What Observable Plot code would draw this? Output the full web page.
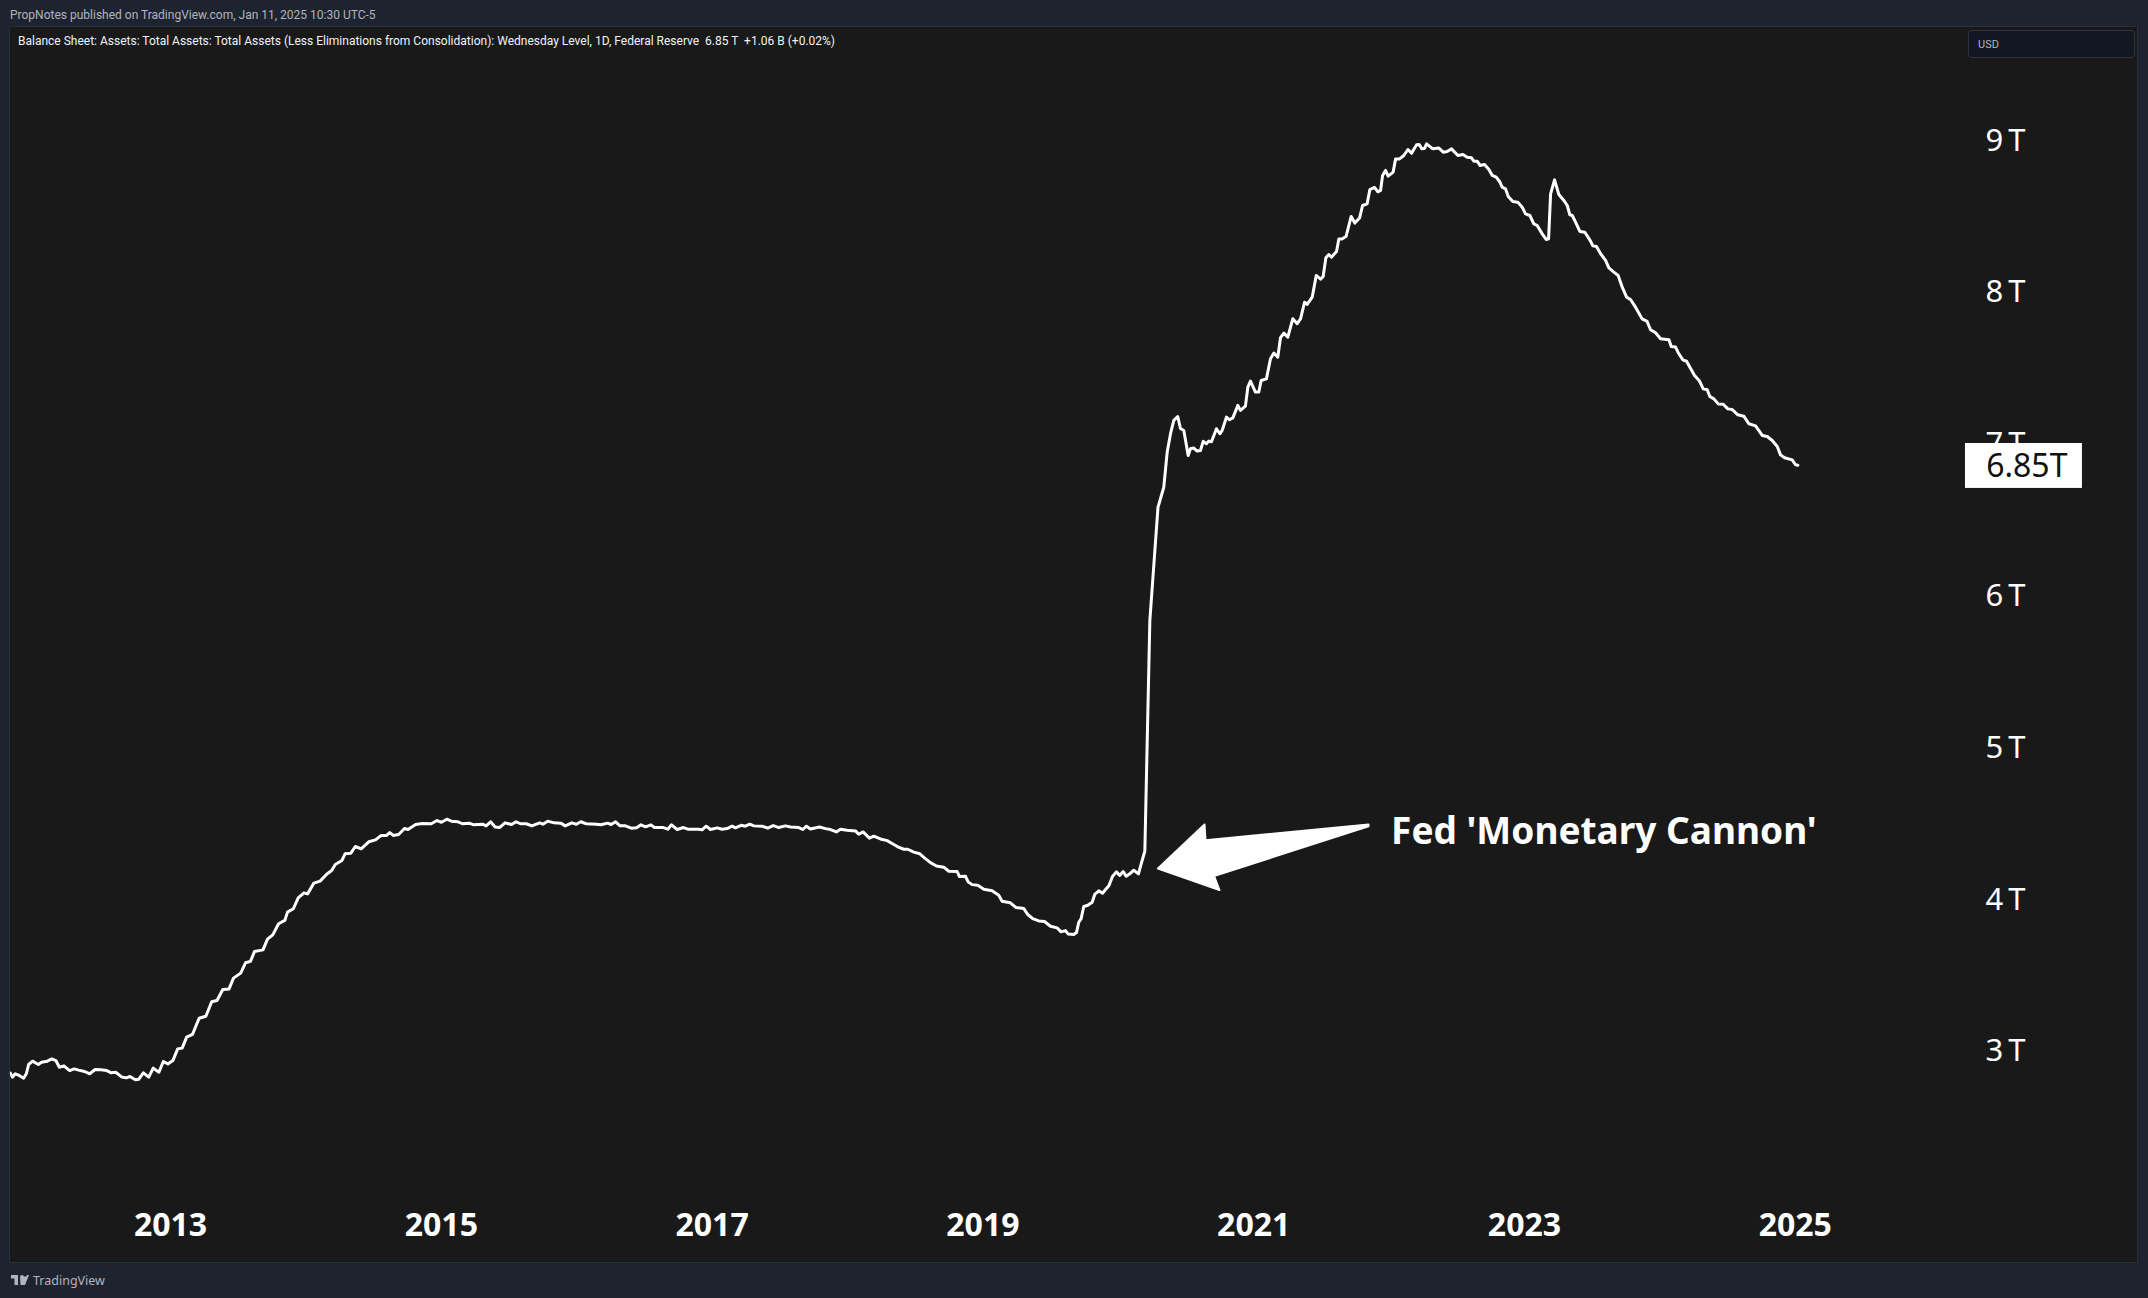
<!DOCTYPE html>
<html><head><meta charset="utf-8">
<script src="https://cdn.jsdelivr.net/npm/d3@7"></script>
<script src="https://cdn.jsdelivr.net/npm/@observablehq/plot@0.6"></script>
<style>
html,body{margin:0;padding:0;width:2148px;height:1298px;overflow:hidden;background:#1e2330;}
#panel{position:absolute;left:10px;top:27px;width:2127px;height:1235px;box-sizing:content-box;outline:1px solid #2a2e39;background:#191919;}
#panel svg{display:block;}
#panel g[aria-label="y-axis tick label"]{letter-spacing:5px;}
.t{position:absolute;white-space:pre;font-family:Roboto,sans-serif;}
#pub{left:10px;top:8px;font-size:12px;color:#b2b5be;}
#leg{left:18px;top:34px;font-size:12px;color:#f0f3fa;}
#usd{position:absolute;left:1968px;top:30px;width:165px;height:26px;background:#131722;border:1px solid #2f3341;border-radius:4px;font:11px Roboto,sans-serif;color:#b2b5be;line-height:28px;text-indent:9px;}
#tv{left:33px;top:1272px;font-size:12.5px;color:#b2b5be;font-family:"Noto Sans",sans-serif;}
#logo{position:absolute;left:10px;top:1275px;}
</style></head><body>
<div class="t" id="pub">PropNotes published on TradingView.com, Jan 11, 2025 10:30 UTC-5</div>
<div id="panel"></div>
<div class="t" id="leg">Balance Sheet: Assets: Total Assets: Total Assets (Less Eliminations from Consolidation): Wednesday Level, 1D, Federal Reserve  6.85 T  +1.06 B (+0.02%)</div>
<div id="usd">USD</div>
<svg id="logo" width="20" height="10" viewBox="0 0 36 20"><path fill="#b2b5be" d="M0 0h14v20H7V7H0zM24 20 32 0h4l-8 20zM22 0a4 4 0 1 1-.01 0zM18 3h14l-6 17h-7z"/></svg>
<div class="t" id="tv">TradingView</div>
<script>
const years = [
2011.817,2011.833,2011.853,2011.882,2011.915,2011.935,2011.952,2011.981,2012.024,2012.047,2012.090,2012.123,2012.153,2012.179,2012.212,2012.255,2012.288,2012.321,2012.364,2012.403,2012.443,2012.486,2012.529,2012.562,2012.595,2012.641,2012.674,2012.700,2012.740,2012.766,2012.799,2012.839,2012.872,2012.914,2012.947,2012.980,
2013.017,2013.053,2013.086,2013.119,2013.162,2013.211,2013.261,2013.304,2013.343,2013.386,2013.432,2013.465,2013.518,2013.554,2013.590,2013.620,2013.683,2013.716,2013.755,2013.798,2013.844,2013.864,2013.907,2013.943,2013.986,
2014.012,2014.059,2014.105,2014.151,2014.190,2014.217,2014.266,2014.289,2014.332,2014.365,2014.408,2014.464,2014.514,2014.556,2014.596,2014.619,2014.645,2014.685,2014.728,2014.754,2014.810,2014.860,2014.926,2014.968,
2015.001,2015.041,2015.074,2015.123,2015.156,2015.206,2015.239,2015.305,2015.331,2015.364,2015.397,2015.430,2015.470,2015.519,2015.552,2015.585,2015.628,2015.668,2015.727,2015.750,2015.786,2015.832,2015.882,2015.915,2015.964,2015.997,
2016.030,2016.070,2016.146,2016.179,2016.228,2016.254,2016.287,2016.320,2016.360,2016.403,2016.442,2016.475,2016.508,2016.548,2016.574,2016.640,2016.673,2016.700,2016.742,2016.788,2016.821,2016.897,2016.926,2016.956,2016.988,
2017.037,2017.074,2017.111,2017.148,2017.172,2017.214,2017.246,2017.278,2017.308,2017.369,2017.411,2017.451,2017.492,2017.542,2017.579,2017.640,2017.670,2017.697,2017.726,2017.793,2017.837,2017.874,2017.918,2017.948,2017.997,
2018.059,2018.083,2018.115,2018.162,2018.194,2018.243,2018.293,2018.329,2018.371,2018.416,2018.445,2018.490,2018.534,2018.568,2018.613,2018.657,2018.711,2018.748,2018.810,2018.827,2018.871,2018.891,2018.920,2018.962,
2019.007,2019.068,2019.117,2019.142,2019.203,2019.245,2019.302,2019.331,2019.368,2019.413,2019.455,2019.499,2019.548,2019.578,2019.610,2019.629,2019.671,2019.691,2019.708,2019.725,2019.745,2019.775,2019.807,2019.826,2019.856,2019.883,2019.930,2019.957,2019.986,
2020.011,2020.036,2020.058,2020.085,2020.114,2020.149,2020.169,2020.196,2020.233,2020.293,2020.336,2020.361,2020.386,2020.410,2020.439,2020.459,2020.484,2020.516,2020.533,2020.558,2020.582,2020.607,2020.627,2020.651,2020.669,2020.688,2020.725,2020.750,2020.767,2020.799,2020.821,2020.846,2020.883,2020.902,2020.939,2020.957,2020.976,
2021.013,2021.038,2021.055,2021.094,2021.124,2021.149,2021.178,2021.198,2021.223,2021.252,2021.289,2021.321,2021.346,2021.376,2021.395,2021.432,2021.462,2021.494,2021.513,2021.533,2021.555,2021.575,2021.612,2021.629,2021.654,2021.683,2021.720,2021.747,2021.782,2021.804,2021.838,2021.858,2021.893,2021.917,2021.937,2021.952,2021.974,2021.993,
2022.030,2022.048,2022.077,2022.109,2022.139,2022.166,2022.203,2022.222,2022.242,2022.262,2022.277,2022.323,2022.368,2022.400,2022.429,2022.461,2022.508,2022.545,2022.577,2022.609,2022.626,2022.651,2022.671,2022.705,2022.737,2022.762,2022.791,2022.816,2022.835,2022.860,2022.880,2022.914,2022.951,2022.983,
2023.008,2023.040,2023.069,2023.094,2023.131,2023.160,2023.178,2023.193,2023.222,2023.254,2023.291,2023.316,2023.335,2023.353,2023.377,2023.409,2023.446,2023.488,2023.505,2023.532,2023.562,2023.599,2023.623,2023.660,2023.692,2023.722,2023.754,2023.783,2023.820,2023.869,2023.906,2023.931,2023.968,
2024.005,2024.067,2024.084,2024.116,2024.140,2024.170,2024.197,2024.256,2024.293,2024.320,2024.350,2024.369,2024.399,2024.431,2024.468,2024.502,2024.534,2024.576,2024.620,2024.657,2024.707,2024.756,2024.793,2024.830,2024.867,2024.891,2024.921,2024.977,2025.002,2025.019];
const assets = [
2.844,2.818,2.840,2.829,2.811,2.840,2.901,2.923,2.901,2.916,2.923,2.938,2.927,2.883,2.892,2.861,2.872,2.864,2.855,2.840,2.868,2.866,2.861,2.846,2.850,2.818,2.813,2.822,2.800,2.804,2.846,2.818,2.877,2.850,2.921,2.905,
2.927,3.004,3.009,3.081,3.099,3.206,3.219,3.314,3.323,3.395,3.399,3.470,3.503,3.571,3.580,3.645,3.656,3.727,3.755,3.828,3.850,3.905,3.927,3.999,4.032,
4.025,4.096,4.109,4.153,4.179,4.219,4.245,4.289,4.293,4.337,4.322,4.368,4.381,4.410,4.410,4.429,4.410,4.416,4.456,4.449,4.482,4.489,4.487,4.508,
4.497,4.517,4.504,4.500,4.487,4.491,4.480,4.484,4.473,4.500,4.465,4.462,4.493,4.482,4.500,4.487,4.487,4.473,4.493,4.484,4.504,4.493,4.491,4.473,4.493,4.484,
4.500,4.487,4.484,4.480,4.491,4.482,4.500,4.473,4.473,4.458,4.460,4.480,4.467,4.480,4.462,4.462,4.451,4.480,4.449,4.462,4.451,4.451,4.447,4.471,4.449,
4.460,4.451,4.455,4.471,4.460,4.477,4.471,4.484,4.473,4.471,4.458,4.475,4.462,4.473,4.466,4.462,4.449,4.471,4.453,4.466,4.455,4.449,4.433,4.451,4.444,
4.440,4.418,4.433,4.392,4.405,4.387,4.376,4.357,4.335,4.319,4.319,4.300,4.289,4.262,4.231,4.209,4.201,4.174,4.172,4.139,4.141,4.104,4.086,4.082,
4.056,4.045,4.016,3.977,3.966,3.935,3.928,3.889,3.862,3.847,3.843,3.812,3.801,3.775,3.783,3.761,3.757,3.770,3.838,3.860,3.942,3.950,3.970,4.021,4.045,4.029,4.078,4.139,4.170,
4.146,4.172,4.141,4.157,4.181,4.157,4.223,4.306,5.826,6.571,6.704,6.935,7.058,7.144,7.170,7.091,7.078,6.913,6.957,6.962,6.942,6.946,7.006,6.990,7.008,7.003,7.089,7.056,7.078,7.166,7.148,7.161,7.243,7.210,7.238,7.364,7.403,
7.331,7.331,7.407,7.418,7.550,7.588,7.561,7.689,7.719,7.693,7.814,7.781,7.813,7.923,7.908,7.956,8.099,8.075,8.092,8.215,8.237,8.220,8.257,8.340,8.340,8.358,8.488,8.444,8.477,8.560,8.571,8.665,8.679,8.650,8.659,8.758,8.791,8.753,
8.780,8.867,8.867,8.889,8.929,8.905,8.960,8.962,8.933,8.936,8.966,8.933,8.938,8.911,8.916,8.933,8.889,8.896,8.878,8.874,8.852,8.852,8.824,8.830,8.797,8.758,8.747,8.718,8.681,8.670,8.619,8.586,8.582,8.549,
8.505,8.494,8.439,8.428,8.373,8.336,8.340,8.637,8.729,8.632,8.593,8.560,8.499,8.494,8.450,8.389,8.384,8.325,8.294,8.290,8.242,8.198,8.149,8.121,8.099,8.022,7.956,7.941,7.890,7.813,7.796,7.741,7.721,
7.682,7.675,7.631,7.627,7.583,7.543,7.534,7.440,7.403,7.352,7.346,7.302,7.286,7.253,7.251,7.220,7.216,7.181,7.172,7.122,7.108,7.045,7.038,7.012,6.972,6.917,6.898,6.884,6.852,6.849];
const yearTicks = [2013,2015,2017,2019,2021,2023,2025];
const valueTicks = [3,4,5,6,7,8,9];
const arrowYears = [2020.293,2020.637,2020.644,2021.848,2021.848,2020.707,2020.747,2020.293];
const arrowValues = [4.192,4.482,4.379,4.482,4.470,4.143,4.050,4.192];
const noteText = ["Fed 'Monetary Cannon'"];
const noteYear = [2022.015];
const noteValue = [4.43];
const lastLabel = ["6.85T"];
const lastValue = [6.85];
const lastBoxYears = [2026.257,2027.121];
const lastBoxValues = [6.696,6.992];
const lastLabelYear = [2026.41];

const series = years.map((x,i)=>({x,y:assets[i]}));
const arrow = arrowYears.map((x,i)=>({x,y:arrowValues[i]}));
const font = '"Noto Sans",sans-serif';

const chart = Plot.plot({
  width:2127,height:1235,
  marginTop:0,marginBottom:50,marginLeft:0,marginRight:152,
  style:{background:"#191919",color:"#fff",overflow:"visible"},
  x:{domain:[2011.818,2026.405],label:null},
  y:{domain:[1.926,9.7325],label:null},
  marks:[
    Plot.axisY({anchor:"right",ticks:valueTicks,tickFormat:d=>`${d}T`,tickSize:0,tickPadding:0,label:null,
      fontSize:31,fontFamily:font,fill:"#fff",dy:2,stroke:null}),
    Plot.axisX({anchor:"bottom",ticks:yearTicks,tickFormat:d=>String(d),tickSize:0,tickPadding:0,label:null,
      fontSize:32,fontWeight:700,fontFamily:font,fill:"#fff",dy:1}),
    Plot.line(series,{x:"x",y:"y",stroke:"#fff",strokeWidth:3,strokeLinejoin:"round",strokeLinecap:"round"}),
    Plot.line(arrow,{x:"x",y:"y",fill:"#fff",stroke:"#fff",strokeWidth:2,strokeLinejoin:"round"}),
    Plot.text(noteText,{x:noteYear,y:noteValue,text:d=>d,textAnchor:"start",fontSize:37,fontWeight:700,fontFamily:font,fill:"#fff"}),
    Plot.rect([0],{x1:lastBoxYears[0],x2:lastBoxYears[1],y1:lastBoxValues[0],y2:lastBoxValues[1],fill:"#fff"}),
    Plot.text(lastLabel,{x:lastLabelYear,y:lastValue,text:d=>d,textAnchor:"start",dy:2,fontSize:32,fontFamily:font,fill:"#111"})
  ]
});
document.getElementById("panel").appendChild(chart);
</script>
</body></html>
